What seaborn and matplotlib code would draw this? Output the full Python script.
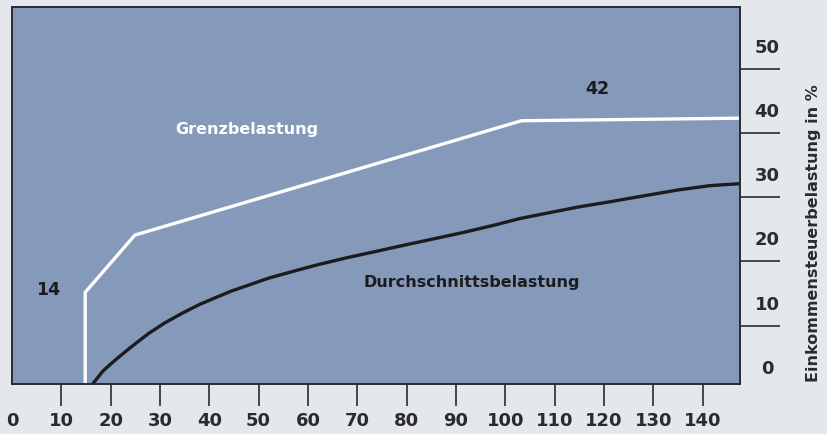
import matplotlib
matplotlib.use('Agg')
import matplotlib.pyplot as plt
import matplotlib.transforms as mtransforms
import seaborn as sns

# Grenzbelastung (marginal rate), white line
grenz_x = [14.85, 14.85, 24.9, 103.3, 148]
grenz_y = [-1, 15.2, 24.1, 41.9, 42.3]

# Durchschnittsbelastung (average rate), black curve
durch_x = [16.3, 18.5, 21, 24, 27.7, 31, 34.4, 38, 41.2, 44.5, 47.9, 52, 56.7, 62, 68, 74,
           79.9, 86, 92, 97.5, 103.1, 109, 115, 121.3, 128, 134.8, 141.5, 147.5]
durch_y = [0.9, 3.0, 4.7, 6.6, 8.8, 10.45, 11.9, 13.3, 14.35, 15.4, 16.3, 17.4, 18.4, 19.5, 20.6, 21.6,
           22.6, 23.6, 24.6, 25.6, 26.7, 27.6, 28.5, 29.3, 30.2, 31.1, 31.8, 32.1]

x_ticks = list(range(0, 150, 10))
y_ticks = [0, 10, 20, 30, 40, 50]

bg_outer = '#e4e7eb'
bg_plot = '#8599bb'
dark = '#2b2b2e'

sns.set_theme(style='white')
plt.rcParams['font.family'] = ['DejaVu Sans']

fig = plt.figure(figsize=(8.27, 4.34), dpi=100, facecolor=bg_outer)
ax = fig.add_axes([12 / 827, 50 / 434, 728 / 827, 377 / 434])
ax.set_facecolor(bg_plot)

sns.lineplot(x=grenz_x, y=grenz_y, estimator=None, sort=False, color='white', lw=2.4, ax=ax)
sns.lineplot(x=durch_x, y=durch_y, estimator=None, sort=False, color='#1c1c1e', lw=2.4, ax=ax)

ax.set_xlim(0, 147.6)
ax.set_ylim(0.93, 59.6)

for s in ax.spines.values():
    s.set_color(dark)
    s.set_linewidth(1.4)

# x axis
ax.set_xticks(x_ticks)
ax.set_xticklabels([str(v) for v in x_ticks], fontsize=13, fontweight='bold', color=dark)
ax.tick_params(axis='x', direction='out', length=16, width=1.2, color=dark, pad=4, bottom=True)
ax.xaxis.get_major_ticks()[0].tick1line.set_visible(False)

# y axis on the right, labels sit above the tick marks (0 lies just below the frame)
ax.yaxis.tick_right()
ax.set_yticks(y_ticks[1:])
ax.set_yticklabels([])
ax.tick_params(axis='y', direction='out', length=29, width=1.2, color=dark, right=True, left=False)

trans = mtransforms.blended_transform_factory(ax.transAxes, ax.transData) + \
    mtransforms.ScaledTranslation(27 / 100, 21 / 100, fig.dpi_scale_trans)
for v in y_ticks:
    ax.text(1.0, v, str(v), transform=trans, ha='center', va='center',
            fontsize=13, fontweight='bold', color=dark, clip_on=False)

ax.set_xlabel('')
ax.set_ylabel('Einkommensteuerbelastung in %', fontsize=11.5, fontweight='bold', color=dark)
ax.yaxis.set_label_position('right')
ax.yaxis.set_label_coords(1.0907, 0.40)

ax.text(47.6, 40.6, 'Grenzbelastung', color='white', fontsize=11.5, fontweight='bold',
        ha='center', va='center')
ax.text(93.2, 16.7, 'Durchschnittsbelastung', color='#1c1c1e', fontsize=11.5, fontweight='bold',
        ha='center', va='center')
ax.text(7.4, 15.6, '14', color='#1c1c1e', fontsize=12.5, fontweight='bold', ha='center', va='center')
ax.text(118.7, 46.8, '42', color='#1c1c1e', fontsize=12.5, fontweight='bold', ha='center', va='center')

fig.savefig('out.png', dpi=100, facecolor=bg_outer)
